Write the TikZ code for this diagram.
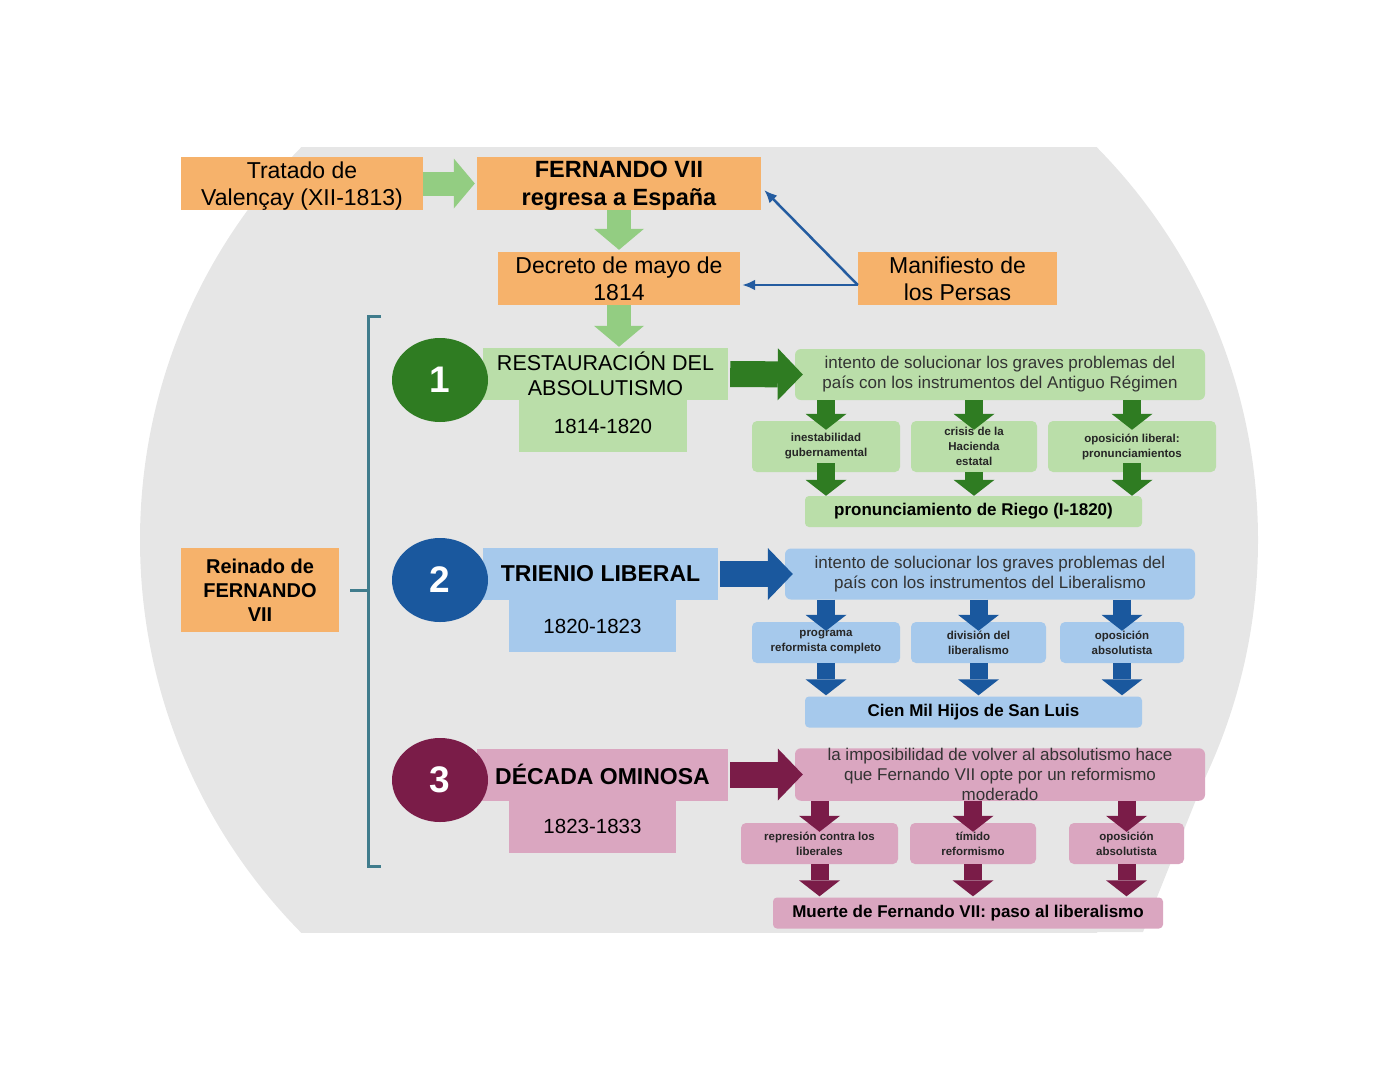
\documentclass[tikz,border=0pt]{standalone}
\usepackage{fontspec}
\setmainfont{Liberation Sans}
\usetikzlibrary{arrows.meta,shapes.geometric}

\definecolor{fondo}{RGB}{230,230,230}
\definecolor{naranja}{RGB}{246,178,107}
\definecolor{verdeflecha}{RGB}{147,205,130}
\definecolor{verde}{RGB}{47,124,34}
\definecolor{verdeclaro}{RGB}{186,222,169}
\definecolor{azul}{RGB}{26,88,158}
\definecolor{azulclaro}{RGB}{166,201,236}
\definecolor{granate}{RGB}{122,28,72}
\definecolor{rosa}{RGB}{218,166,192}
\definecolor{lineaazul}{RGB}{36,92,160}
\definecolor{corchete}{RGB}{64,124,140}

\tikzset{
  caja/.style={fill=naranja, inner sep=0pt, minimum height=53pt, align=center,
    text depth=0pt, font=\fontsize{23}{27.5}\selectfont},
  periodo/.style={inner sep=0pt, minimum height=52pt, align=center},
  fecha/.style={inner sep=0pt, minimum height=52pt, font=\fontsize{20.5}{24}\selectfont},
  numero/.style={ellipse, minimum width=96pt, minimum height=84pt, inner sep=0pt,
    text=white, font=\bfseries\fontsize{37}{37}\selectfont},
  idea/.style={rounded corners=6pt, inner sep=0pt, minimum width=410pt, minimum height=51pt,
    align=center, text=black!80, font=\fontsize{17}{20}\selectfont},
  causa/.style={rounded corners=5pt, inner sep=0pt, align=center, text=black!85,
    font=\bfseries\fontsize{11.5}{15}\selectfont},
  final/.style={rounded corners=4pt, inner sep=0pt, minimum height=31pt,
    font=\bfseries\fontsize{17}{20}\selectfont},
  flechaclara/.style={draw=verdeflecha, line width=24pt, -{Triangle[length=21pt,width=50pt,line width=0pt]}},
  flechagrande/.style={line width=26pt, -{Triangle[length=25pt,width=52pt,line width=0pt]}},
  flechita/.style={line width=18pt, -{Triangle[length=16pt,width=41pt,line width=0pt]}},
  fina/.style={draw=lineaazul, line width=2.5pt, -{Latex[length=13pt,width=11pt]}}
}

\begin{document}
\begin{tikzpicture}[x=1pt, y=-1pt]
\useasboundingbox (0,0) rectangle (1397,1080);

\begin{scope}
\clip (0,147) rectangle (1397,932);
\fill[fondo] (699,540) circle[radius=559pt];
\fill[fondo] (1000,720) -- (1228,720) -- (1143,932) -- (1000,932) -- cycle;
\end{scope}

\node[caja, minimum width=242pt] (tratado) at (302,183.5) {Tratado de\\Valençay (XII-1813)};
\node[caja, minimum width=284pt, font=\bfseries\fontsize{23.5}{27.5}\selectfont] (fernando) at (619,183.5) {FERNANDO VII\\regresa a España};
\node[caja, minimum width=242pt] (decreto) at (619,278.5) {Decreto de mayo de\\1814};
\node[caja, minimum width=199pt] (manifiesto) at (957.5,278.5) {Manifiesto de\\los Persas};
\node[caja, minimum width=158pt, minimum height=84pt, font=\bfseries\fontsize{20}{24}\selectfont] (reinado) at (260,590) {Reinado de\\FERNANDO\\VII};

\draw[flechaclara] (tratado.east) -- ([xshift=-2pt]fernando.west);
\draw[flechaclara] (fernando.south) -- ([yshift=2pt]decreto.north);

\coordinate (mp) at ([yshift=-6.5pt]manifiesto.west);
\draw[fina] (mp) -- ([xshift=3pt,yshift=-6.5pt]fernando.east);
\draw[fina] (mp) -- ([xshift=2pt,yshift=-6.5pt]decreto.east);

\coordinate (llave) at (368,590);
\draw[corchete, line width=3pt] (381,316) -- (368,316) -- (368,866) -- (381,866);
\draw[corchete, line width=3pt] ([xshift=11pt]reinado.east) -- (llave);

% 1
\node[periodo, fill=verdeclaro, minimum width=245pt, font=\fontsize{21.5}{25}\selectfont] (t1) at (605.5,374) {RESTAURACIÓN DEL\\ABSOLUTISMO};
\node[fecha, fill=verdeclaro, minimum width=168pt] (f1) at (603,426) {1814-1820};
\node[numero, fill=verde] (n1) at (440,380) {1};
\node[idea, fill=verdeclaro] (d1) at (1000,374.5) {intento de solucionar los graves problemas del\\país con los instrumentos del Antiguo Régimen};
\node[causa, fill=verdeclaro, minimum width=148pt, minimum height=51pt] (s11) at (826,446.5) {inestabilidad\\gubernamental};
\node[causa, fill=verdeclaro, minimum width=126pt, minimum height=51pt] (s12) at (974,446.5) {crisis de la\\Hacienda\\estatal};
\node[causa, fill=verdeclaro, minimum width=168pt, minimum height=51pt] (s13) at (1132,446.5) {oposición liberal:\\pronunciamientos};
\node[final, fill=verdeclaro, minimum width=337pt] (b1) at (973.5,511.5) {pronunciamiento de Riego (I-1820)};

\coordinate (e1) at (decreto.south |- t1.north);
\draw[flechaclara] (decreto.south) -- ([yshift=1pt]e1);
\draw[flechagrande, verde] ([xshift=2pt]t1.east) -- ([xshift=8pt]d1.west);
\draw[flechita, verde] (d1.south -| s11) -- ([yshift=-9pt]s11.north);
\draw[flechita, verde] (d1.south -| s12) -- ([yshift=-9pt]s12.north);
\draw[flechita, verde] (d1.south -| s13) -- ([yshift=-9pt]s13.north);
\draw[flechita, verde] ([yshift=9pt]s11.south) -- (b1.north -| s11);
\draw[flechita, verde] (s12.south) -- (b1.north -| s12);
\draw[flechita, verde] ([yshift=9pt]s13.south) -- (b1.north -| s13);

% 2
\node[periodo, fill=azulclaro, minimum width=235pt, font=\bfseries\fontsize{23}{27}\selectfont] (t2) at (600.5,574) {TRIENIO LIBERAL};
\node[fecha, fill=azulclaro, minimum width=167pt] (f2) at (592.5,626) {1820-1823};
\node[numero, fill=azul] (n2) at (440,580) {2};
\node[idea, fill=azulclaro] (d2) at (990,574) {intento de solucionar los graves problemas del\\país con los instrumentos del Liberalismo};
\node[causa, fill=azulclaro, minimum width=148pt, minimum height=41pt] (s21) at (826,642.5) {programa\\reformista completo};
\node[causa, fill=azulclaro, minimum width=135pt, minimum height=41pt] (s22) at (978.5,642.5) {división del\\liberalismo};
\node[causa, fill=azulclaro, minimum width=124pt, minimum height=41pt] (s23) at (1122,642.5) {oposición\\absolutista};
\node[final, fill=azulclaro, minimum width=337pt] (b2) at (973.5,712) {Cien Mil Hijos de San Luis};

\draw[flechagrande, azul] ([xshift=2pt]t2.east) -- ([xshift=8pt]d2.west);
\draw[flechita, azul] (d2.south -| s21) -- ([yshift=-9pt]s21.north);
\draw[flechita, azul] (d2.south -| s22) -- ([yshift=-9pt]s22.north);
\draw[flechita, azul] (d2.south -| s23) -- ([yshift=-9pt]s23.north);
\draw[flechita, azul] (s21.south) -- ([yshift=1pt]b2.north -| s21);
\draw[flechita, azul] (s22.south) -- ([yshift=1pt]b2.north -| s22);
\draw[flechita, azul] (s23.south) -- ([yshift=1pt]b2.north -| s23);

% 3
\node[periodo, fill=rosa, minimum width=251pt, font=\bfseries\fontsize{23}{27}\selectfont] (t3) at (602.5,774.5) {DÉCADA OMINOSA};
\node[fecha, fill=rosa, minimum width=167pt] (f3) at (592.5,826.5) {1823-1833};
\node[numero, fill=granate] (n3) at (440,780) {3};
\node[idea, fill=rosa] (d3) at (1000,774.5) {la imposibilidad de volver al absolutismo hace\\que Fernando VII opte por un reformismo\\moderado};
\node[causa, fill=rosa, minimum width=157pt, minimum height=41pt] (s31) at (819.5,843.5) {represión contra los\\liberales};
\node[causa, fill=rosa, minimum width=126pt, minimum height=41pt] (s32) at (973,843.5) {tímido\\reformismo};
\node[causa, fill=rosa, minimum width=115pt, minimum height=41pt] (s33) at (1126.5,843.5) {oposición\\absolutista};
\node[final, fill=rosa, minimum width=390pt] (b3) at (968,913) {Muerte de Fernando VII: paso al liberalismo};

\draw[flechagrande, granate] ([xshift=2pt]t3.east) -- ([xshift=8pt]d3.west);
\draw[flechita, granate] (d3.south -| s31) -- ([yshift=-9pt]s31.north);
\draw[flechita, granate] (d3.south -| s32) -- ([yshift=-9pt]s32.north);
\draw[flechita, granate] (d3.south -| s33) -- ([yshift=-9pt]s33.north);
\draw[flechita, granate] (s31.south) -- ([yshift=1pt]b3.north -| s31);
\draw[flechita, granate] (s32.south) -- ([yshift=1pt]b3.north -| s32);
\draw[flechita, granate] (s33.south) -- ([yshift=1pt]b3.north -| s33);
\end{tikzpicture}
\end{document}
